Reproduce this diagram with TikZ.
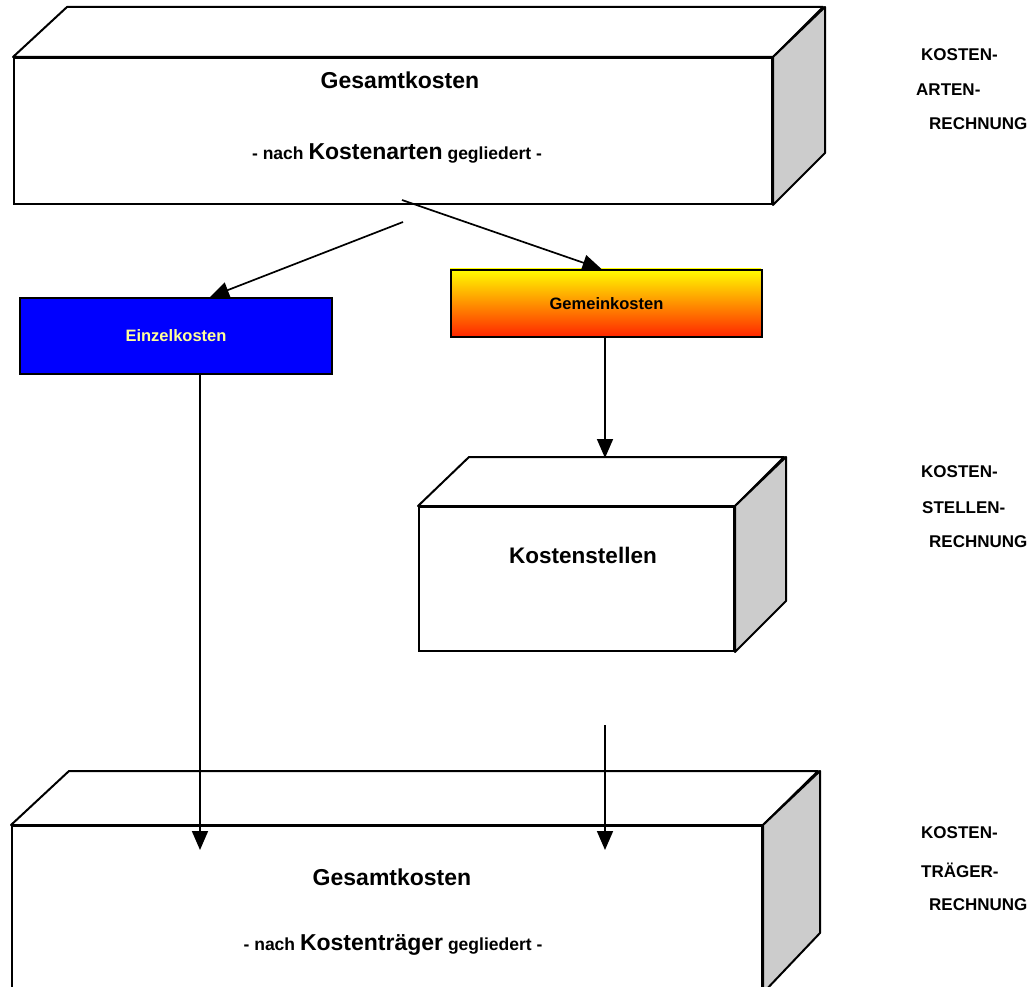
\documentclass[tikz,border=0pt]{standalone}
\usepackage{fontspec}
\setmainfont{Liberation Sans}
\usetikzlibrary{arrows.meta}
\definecolor{sidegray}{RGB}{204,204,204}
\definecolor{ekblue}{RGB}{0,0,255}
\definecolor{eklabel}{RGB}{255,255,153}
\definecolor{gktop}{RGB}{255,255,0}
\definecolor{gkmid}{RGB}{255,170,0}
\definecolor{gkbot}{RGB}{255,40,0}
\newcommand{\fsz}[1]{\fontsize{#1}{#1}\selectfont}
\tikzset{
  face/.style={draw=black, line width=2pt, line join=round, fill=white},
  sideface/.style={draw=black, line width=2pt, line join=round, fill=sidegray},
  frontbox/.style={draw=black, line width=2pt, fill=white, inner sep=0pt, anchor=north west},
  flatbox/.style={draw=black, line width=2pt, inner sep=0pt, anchor=north west},
  txt/.style={inner sep=0pt, font=\bfseries},
  arr/.style={line width=1.7pt, -{Triangle[length=19pt,width=16pt]}},
  sidelabel/.style={inner sep=0pt, anchor=west, font=\bfseries\fsz{17}},
}
\begin{document}
\begin{tikzpicture}[x=1pt,y=-1pt]
\useasboundingbox (0,0) rectangle (1034,987);

% ---------- top box ----------
\node[frontbox, minimum width=758pt, minimum height=146pt] (top) at (13,57) {};
\draw[face] (top.north west) -- ++(54,-50) -- ++(756,0) -- (top.north east) -- cycle;
\draw[sideface] (top.north east) -- ++(52,-50) -- ++(0,146) -- (top.south east) -- cycle;
\node[txt, font=\bfseries\fsz{23}] (toptitle) at (400,80) {Gesamtkosten};
\node[txt] (topsub) at (397,153) {{\fsz{17.5}- nach }{\fsz{23}Kostenarten}{\fsz{17.5} gegliedert -}};

% ---------- Einzelkosten / Gemeinkosten ----------
\node[flatbox, fill=ekblue, minimum width=312pt, minimum height=76pt] (ek) at (19,297) {};
\node[txt, text=eklabel, font=\bfseries\fsz{16.5}] (ektxt) at (ek.center) {Einzelkosten};
\shade[top color=gktop, middle color=gkmid, bottom color=gkbot] (450,269) rectangle (761,336);
\node[flatbox, minimum width=311pt, minimum height=67pt] (gk) at (450,269) {};
\node[txt, font=\bfseries\fsz{16.5}] (gktxt) at (gk.center) {Gemeinkosten};

% ---------- Kostenstellen ----------
\node[frontbox, minimum width=315pt, minimum height=144pt] (ks) at (418,506) {};
\draw[face] (ks.north west) -- ++(51,-49) -- ++(315,0) -- (ks.north east) -- cycle;
\draw[sideface] (ks.north east) -- ++(51,-49) -- ++(0,144) -- (ks.south east) -- cycle;
\node[txt, font=\bfseries\fsz{22.5}] (kstxt) at (583,555) {Kostenstellen};

% ---------- bottom box ----------
\node[frontbox, minimum width=750pt, minimum height=164pt] (bot) at (11,825) {};
\draw[face] (bot.north west) -- ++(58,-54) -- ++(749,0) -- (bot.north east) -- cycle;
\draw[sideface] (bot.north east) -- ++(57,-54) -- ++(0,162) -- ([yshift=-2pt]bot.south east) -- cycle;
\node[txt, font=\bfseries\fsz{23}] (bottitle) at (392,877) {Gesamtkosten};
\node[txt] (botsub) at (393,945) {{\fsz{17.5}- nach }{\fsz{23}Kostenträger}{\fsz{17.5} gegliedert -}};

% ---------- connectors ----------
\coordinate (s1) at (403,222);
\coordinate (s2) at (402,200);
\coordinate (ksin) at (605,458);
\coordinate (e1) at (200,850);
\coordinate (s5) at (605,725);
\coordinate (e5) at (605,850);
\draw[arr] (s1) -- ([xshift=34pt]ek.north);
\draw[arr] (s2) -- ([xshift=-5pt]gk.north);
\draw[arr] (gk.south -| ksin) -- (ksin);
\draw[arr] (ek.south -| e1) -- (e1);
\draw[arr] (s5) -- (e5);

% ---------- side labels ----------
\node[sidelabel] (l1a) at (921,55) {KOSTEN-};
\node[sidelabel] (l1b) at (916,90) {ARTEN-};
\node[sidelabel] (l1c) at (929,124) {RECHNUNG};
\node[sidelabel] (l2a) at (921,472) {KOSTEN-};
\node[sidelabel] (l2b) at (922,508) {STELLEN-};
\node[sidelabel] (l2c) at (929,542) {RECHNUNG};
\node[sidelabel] (l3a) at (921,833) {KOSTEN-};
\node[sidelabel] (l3b) at (921,870) {TRÄGER-};
\node[sidelabel] (l3c) at (929,905) {RECHNUNG};
\end{tikzpicture}
\end{document}
